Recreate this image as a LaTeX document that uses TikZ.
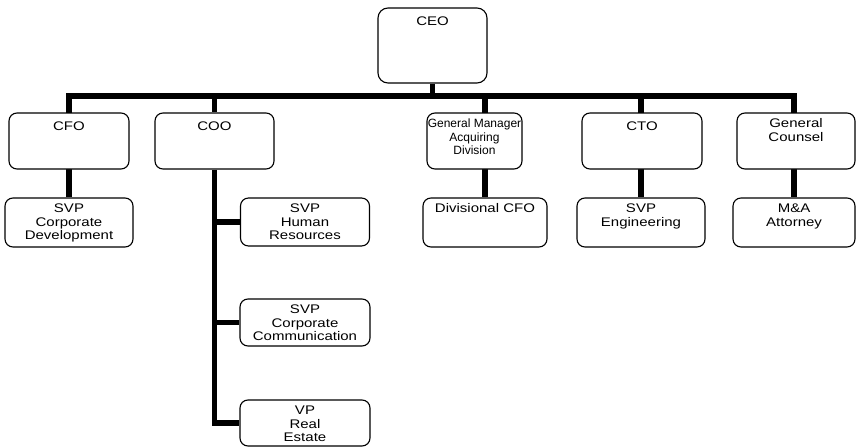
\documentclass[tikz,border=0pt]{standalone}
\usepackage{fontspec}
\setmainfont{Liberation Sans}[FakeStretch=1.2]
\newfontfamily\narrowfont{Liberation Sans}
\usetikzlibrary{positioning,backgrounds}
\newcommand\rolelines[1]{\begin{tabular}[t]{@{}c@{}}#1\end{tabular}}

\begin{document}
\begin{tikzpicture}[
  x=1pt, y=-1pt,
  post/.style={draw, fill=white, rounded corners=8pt, line width=1.1pt,
    font=\fontsize{12.5}{13.5}\selectfont, inner xsep=1pt, text height=9pt},
  chief/.style={post, inner ysep=8pt, text depth=31pt},
  staff/.style={post, inner ysep=5.5pt, text depth=29pt},
  link/.style={line width=5.5pt}
]
  \useasboundingbox (0,0) rectangle (857,447);

  % top of the chart
  \node[post, inner ysep=8.5pt, text depth=49pt, minimum width=109pt, rounded corners=10pt] (ceo) at (432.5,45.5) {CEO};

  % direct reports
  \node[chief, minimum width=120pt] (cfo) at (69,141) {CFO};
  \node[chief, minimum width=119pt] (coo) at (214.5,141) {COO};
  \node[chief, minimum width=95pt, inner ysep=5.5pt, text depth=36pt, inner xsep=0pt,
    font=\narrowfont\fontsize{12}{13.5}\selectfont] (gm) at (474.5,141) {\rolelines{General Manager\\Acquiring\\Division}};
  \node[chief, minimum width=120pt] (cto) at (642,141) {CTO};
  \node[chief, minimum width=118pt, inner ysep=5.5pt, text depth=36pt] (gc) at (796,141) {\rolelines{General\\Counsel}};

  % second level
  \node[staff, minimum width=128pt] (svpcd) at (69,222.5) {\rolelines{SVP\\Corporate\\Development}};
  \node[staff, minimum width=124pt] (divcfo) at (485,222.5) {Divisional CFO};
  \node[staff, minimum width=128pt] (svpeng) at (641,222.5) {\rolelines{SVP\\Engineering}};
  \node[staff, minimum width=122pt] (ma) at (794,222.5) {\rolelines{M\&A\\Attorney}};

  % under the COO
  \node[staff, minimum width=129pt, text depth=28pt] (svphr) at (305,222) {\rolelines{SVP\\Human\\Resources}};
  \node[staff, minimum width=130pt, text depth=27pt] (svpcc) at (305,322.5) {\rolelines{SVP\\Corporate\\Communication}};
  \node[staff, minimum width=130pt, text depth=26pt] (vpre) at (305,423) {\rolelines{VP\\Real\\Estate}};

  % reporting lines
  \begin{scope}[on background layer]
    \coordinate (bus) at (0,96);
    \draw[link] (ceo.south) -- (ceo.south |- bus);
    \draw[link] (svpcd.north) -- (svpcd.north |- bus) -- (ma.north |- bus) -- (ma.north);
    \draw[link] (coo.north |- bus) -- (coo.north);
    \draw[link] (divcfo.north |- bus) -- (divcfo.north);
    \draw[link] (svpeng.north |- bus) -- (svpeng.north);
    \draw[link] (coo.south) |- (vpre.west);
    \draw[link] (svphr.west) -| (coo.south);
    \draw[link] (svpcc.west) -| (coo.south);
  \end{scope}
\end{tikzpicture}
\end{document}
